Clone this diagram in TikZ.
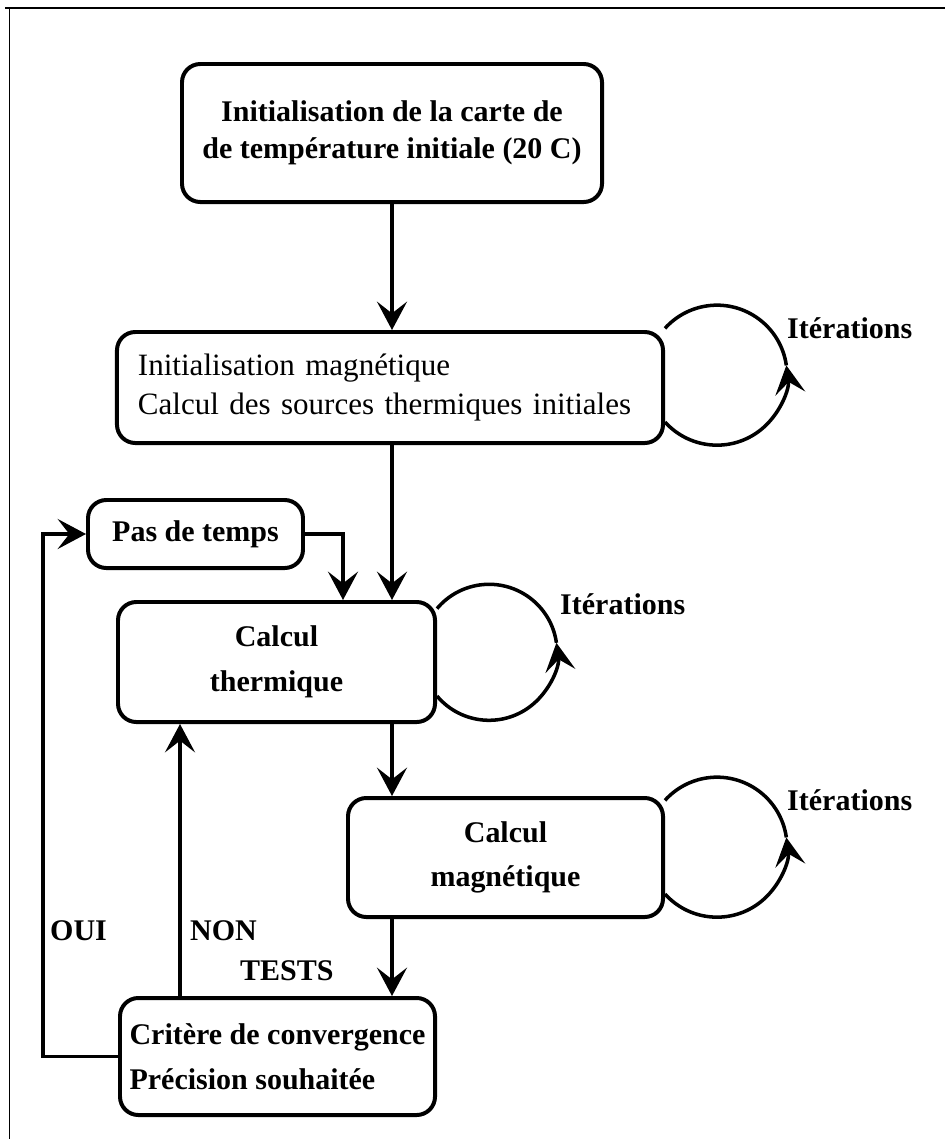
\documentclass[tikz,border=0pt]{standalone}
\usepackage{fontspec}
\setmainfont{Liberation Serif}
\usetikzlibrary{arrows.meta,calc,positioning}

\newcommand{\bigtxt}{\fontsize{25.6}{38}\selectfont}
\tikzset{
  box/.style={draw,line width=3.4pt,rounded corners=0.55cm,align=center,inner sep=0pt},
  flow/.style={line width=3pt,-{Stealth[length=0.85cm,width=0.9cm,inset=0.35cm]}},
  loopline/.style={line width=3pt},
  lbl/.style={font=\bfseries\bigtxt,anchor=west,inner sep=0pt},
}

\begin{document}
\begin{tikzpicture}[x=0.03cm,y=-0.03cm]
  \useasboundingbox (0,0) rectangle (945,1139);
  % cadre
  \draw[line width=2pt] (5,8) -- (945,8);
  \draw[line width=0.8pt] (9,8) -- (9,1139);

  % etapes
  \node[box,font=\bfseries\fontsize{25.6}{31.5}\selectfont,minimum width=12.6cm,minimum height=4.14cm]
    (init) at (392,133) {Initialisation de la carte de\\de température initiale (20 C)};
  \node[box,font=\fontsize{26.5}{34}\selectfont,align=left,text width=15.12cm,inner xsep=0.63cm,minimum height=3.33cm]
    (magini) at (390,387.5) {Initialisation magnétique\\Calcul des sources thermiques initiales};
  \node[box,font=\bfseries\bigtxt,minimum width=6.45cm,minimum height=2.04cm]
    (pas) at (195.5,534) {Pas de temps};
  \node[box,font=\bfseries\bigtxt,minimum width=9.51cm,minimum height=3.6cm]
    (therm) at (276.5,662) {Calcul\\thermique};
  \node[box,font=\bfseries\bigtxt,minimum width=9.45cm,minimum height=3.57cm]
    (magn) at (505.5,857.5) {Calcul\\magnétique};
  \node[box,font=\bfseries\bigtxt,align=left,minimum width=9.45cm,minimum height=3.51cm]
    (crit) at (277.5,1056.5) {Critère de convergence\\Précision souhaitée};

  % colonnes des fleches
  \coordinate (mid) at (392,0);
  \coordinate (non) at (180,0);
  \coordinate (oui) at (43,0);
  \coordinate (pasin) at (343,0);

  \draw[flow] (init.south -| mid) -- (magini.north -| mid);
  \draw[flow] (magini.south -| mid) -- (therm.north -| mid);
  \draw[flow] (pas.east) -| (therm.north -| pasin);
  \draw[flow] (therm.south -| mid) -- (magn.north -| mid);
  \draw[flow] (magn.south -| mid) -- (crit.north -| mid);
  \draw[flow] (crit.north -| non) -- (therm.south -| non);
  \draw[flow] (crit.west) -- (crit.west -| oui) -- (pas.west -| oui) -- (pas.west);

  % boucles d'iterations
  \draw[flow] ($(magini.east)+(0,34.5)$) arc[start angle=138,end angle=-8,radius=70] coordinate (tip1);
  \draw[loopline] (tip1) arc[start angle=-8,end angle=-138,radius=70];
  \draw[flow] ($(therm.east)+(0,34)$) arc[start angle=140,end angle=-8,radius=68] coordinate (tip2);
  \draw[loopline] (tip2) arc[start angle=-8,end angle=-140,radius=68];
  \draw[flow] ($(magn.east)+(0,36.5)$) arc[start angle=138,end angle=-8,radius=70] coordinate (tip3);
  \draw[loopline] (tip3) arc[start angle=-8,end angle=-138,radius=70];

  \node[lbl] (it1) at (787,328) {Itérations};
  \node[lbl] (it2) at (560,604) {Itérations};
  \node[lbl] (it3) at (787,800) {Itérations};
  \node[lbl] (ouilbl) at (50,931) {OUI};
  \node[lbl] (nonlbl) at (190,931) {NON};
  \node[lbl] (tests) at (240,971) {TESTS};
\end{tikzpicture}
\end{document}
